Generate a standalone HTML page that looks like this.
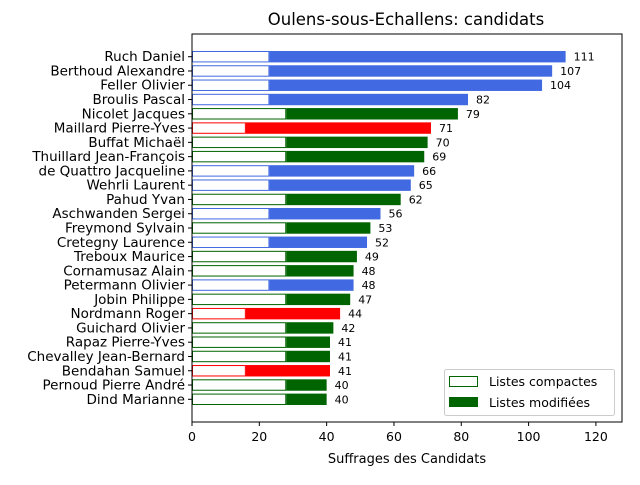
<!DOCTYPE html>
<html><head><meta charset="utf-8"><style>
body{margin:0;background:#fff;}
svg{font-family:"DejaVu Sans","Liberation Sans",sans-serif;}
</style></head><body>
<svg id="chart" width="640" height="480">
<text x="406" y="25" font-size="16.5" text-anchor="middle">Oulens-sous-Echallens: candidats</text>
<g id="plot"></g>
<text x="407" y="463" font-size="13" text-anchor="middle">Suffrages des Candidats</text>
<g>
<rect x="444.5" y="369.5" width="170" height="46" rx="2" fill="#fff" fill-opacity="0.8" stroke="#ccc"/>
<g>
<rect x="449.5" y="376.5" width="28" height="10" fill="#fff" stroke="#006400"/>
<text x="489" y="386" font-size="12.5">Listes compactes</text></g>
<g>
<rect x="449" y="397" width="29" height="10" fill="#006400"/>
<text x="489" y="407" font-size="12.5">Listes modifiées</text></g>
</g>
</svg>
<script>
const names=["Ruch Daniel","Berthoud Alexandre","Feller Olivier","Broulis Pascal","Nicolet Jacques","Maillard Pierre-Yves","Buffat Michaël","Thuillard Jean-François","de Quattro Jacqueline","Wehrli Laurent","Pahud Yvan","Aschwanden Sergei","Freymond Sylvain","Cretegny Laurence","Treboux Maurice","Cornamusaz Alain","Petermann Olivier","Jobin Philippe","Nordmann Roger","Guichard Olivier","Rapaz Pierre-Yves","Chevalley Jean-Bernard","Bendahan Samuel","Pernoud Pierre André","Dind Marianne"];
const totals=[111,107,104,82,79,71,70,69,66,65,62,56,53,52,49,48,48,47,44,42,41,41,41,40,40];
const compact=[23,23,23,23,28,16,28,28,23,23,28,23,28,23,28,28,23,28,16,28,28,28,16,28,28];
const party=["B","B","B","B","G","R","G","G","B","B","G","B","G","B","G","G","B","G","R","G","G","G","R","G","G"];
const xTicks=[0,20,40,60,80,100,120];
const colors={B:"#4169e1",G:"#006400",R:"#ff0000"};
const L=192,R=622,T=34,B=422,XMAX=127.75;
const n=names.length;
const x=v=>L+v/XMAX*(R-L);
const step=(B-T)/(n-1+2*1.59);
const y=i=>T+(1.59+i)*step;
const bh=0.8*step;
const NS="http://www.w3.org/2000/svg";
const g=document.getElementById('plot');
function mk(t,a,txt){const e=document.createElementNS(NS,t);for(const k in a)e.setAttribute(k,a[k]);if(txt!=null)e.textContent=txt;g.appendChild(e);return e;}
names.forEach((nm,i)=>{
 const c=colors[party[i]],cy=y(i);
 const m=mk('rect',{x:x(compact[i]),y:cy-bh/2,width:x(totals[i])-x(compact[i]),height:bh,fill:c});
 
 
 const cp=mk('rect',{x:x(0)+0.5,y:cy-bh/2+0.5,width:x(compact[i])-x(0)-1,height:bh-1,fill:'#fff',stroke:c,'stroke-width':1});
 
 
 const lb=mk('text',{x:x(totals[i])+8,y:cy+4,'font-size':11},String(totals[i]));
 
 
 const tk=mk('line',{x1:L-4,x2:L,y1:cy,y2:cy,stroke:'#000'});
 
 
 const nl=mk('text',{x:L-7,y:cy+4.5,'font-size':13.5,'text-anchor':'end'},nm);
 
 
});
xTicks.forEach(v=>{
 const t=mk('line',{x1:x(v),x2:x(v),y1:B,y2:B+4,stroke:'#000'});
 
 
 const l=mk('text',{x:x(v),y:B+19,'font-size':12.5,'text-anchor':'middle'},String(v));
 
 
});
const fr=mk('rect',{x:L,y:T,width:R-L,height:B-T,fill:'none',stroke:'#000','stroke-width':1});


</script>
</body></html>
